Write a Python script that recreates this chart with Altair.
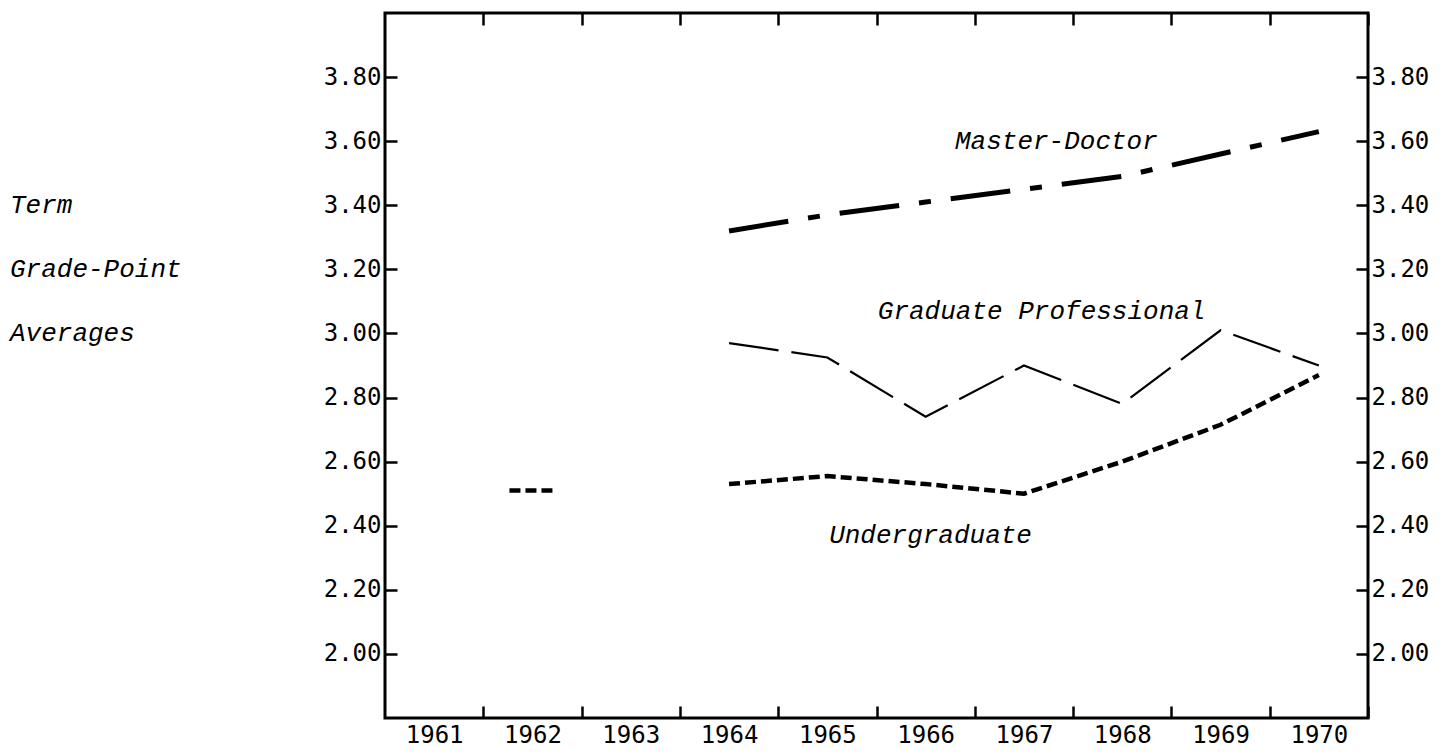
import altair as alt
import pandas as pd

# ---- data ----
years = [1961, 1962, 1963, 1964, 1965, 1966, 1967, 1968, 1969, 1970]
master_doctor = [None, None, None, 3.32, 3.37, 3.41, 3.45, 3.49, 3.56, 3.63]
grad_prof = [None, None, None, 2.97, 2.925, 2.74, 2.90, 2.78, 3.01, 2.90]
undergrad = [None, 2.51, None, 2.53, 2.555, 2.53, 2.50, 2.60, 2.715, 2.87]

series_names = ["Master-Doctor", "Graduate Professional", "Undergraduate"]
series_values = [master_doctor, grad_prof, undergrad]

y_ticks = [2.0, 2.2, 2.4, 2.6, 2.8, 3.0, 3.2, 3.4, 3.6, 3.8]
side_text = ["Term", "Grade-Point", "Averages"]
side_text_at = [3.4, 3.2, 3.0]

# annotation anchors (data coordinates)
ann_text = ["Master-Doctor", "Graduate Professional", "Undergraduate"]
ann_year = [1967.33, 1967.18, 1966.05]
ann_value = [3.60, 3.07, 2.37]

# ---- build tables ----
rows = []
iso = []
for name, vals in zip(series_names, series_values):
    run = 0
    prev = None
    for i, (yr, v) in enumerate(zip(years, vals)):
        if v is None:
            prev = None
            continue
        if prev is None:
            run += 1
        left = vals[i - 1] if i > 0 else None
        right = vals[i + 1] if i + 1 < len(vals) else None
        rec = {"series": name, "year": yr, "value": v, "seg": f"{name}-{run}"}
        if left is None and right is None:
            iso.append(rec)
        else:
            rows.append(rec)
        prev = v
line_df = pd.DataFrame(rows)
iso_df = pd.DataFrame(iso)
ann_df = pd.DataFrame({"label": ann_text, "year": ann_year, "value": ann_value})
side_df = pd.DataFrame({"label": side_text, "value": side_text_at})

W, H = 983, 705
half = W / 10 / 2
NUM_FONT = "DejaVu Sans Mono"
IT_FONT = "Liberation Mono"

xscale = alt.Scale(domain=[1960.5, 1970.5], nice=False, zero=False)
yscale = alt.Scale(domain=[1.8, 4.0], nice=False, zero=False)

common_tick = dict(tickSize=12, offset=-12, tickWidth=2.5, tickColor="black",
                   domain=False, grid=False, title=None)

x_bottom = alt.Axis(orient="bottom", values=years, tickOffset=half, labelOffset=-half,
                    labelFont=NUM_FONT, labelFontSize=24, labelColor="black",
                    labelPadding=5, labelFlush=False, labelOverlap=False, format="d",
                    **common_tick)
x_top = alt.Axis(orient="top", values=years, tickOffset=half, labels=False, **common_tick)
y_left = alt.Axis(orient="left", values=y_ticks, format=".2f", labelFont=NUM_FONT,
                  labelFontSize=24, labelColor="black", labelPadding=4,
                  labelFlush=False, labelOverlap=False, **common_tick)
y_right = alt.Axis(orient="right", values=y_ticks, format=".2f", labelFont=NUM_FONT,
                   labelFontSize=24, labelColor="black", labelPadding=3,
                   labelFlush=False, labelOverlap=False, **common_tick)

dash_scale = alt.Scale(type="ordinal", domain=series_names,
                       range=[[60, 20, 12, 20], [50, 13], [11, 5]])
width_scale = alt.Scale(type="ordinal", domain=series_names, range=[5, 2.2, 4.5])

lines = alt.Chart(line_df).mark_line(color="black", strokeCap="butt").encode(
    x=alt.X("year:Q", scale=xscale, axis=x_bottom),
    y=alt.Y("value:Q", scale=yscale, axis=y_left),
    detail="seg:N",
    strokeDash=alt.StrokeDash("series:N", scale=dash_scale, legend=None),
    strokeWidth=alt.StrokeWidth("series:N", scale=width_scale, legend=None),
)

isolated = alt.Chart(iso_df).mark_rule(color="black", xOffset=-23, x2Offset=23,
                                       strokeCap="butt").encode(
    x=alt.X("year:Q", scale=xscale, axis=None),
    x2="year:Q",
    y=alt.Y("value:Q", scale=yscale, axis=None),
    strokeDash=alt.StrokeDash("series:N", scale=dash_scale, legend=None),
    strokeWidth=alt.StrokeWidth("series:N", scale=width_scale, legend=None),
)

ann = alt.Chart(ann_df).mark_text(font=IT_FONT, fontStyle="italic", fontSize=26,
                                  color="black", align="center", baseline="middle").encode(
    x=alt.X("year:Q", scale=xscale, axis=x_top),
    y=alt.Y("value:Q", scale=yscale, axis=y_right),
    text="label:N",
)

side = alt.Chart(side_df).mark_text(font=IT_FONT, fontStyle="italic", fontSize=26,
                                    color="black", align="left", baseline="middle").encode(
    x=alt.value(-375),
    y=alt.Y("value:Q", scale=yscale, axis=None),
    text="label:N",
)

chart = alt.layer(lines, isolated, ann, side).resolve_axis(
    x="independent", y="independent"
).properties(
    width=W, height=H,
    autosize=alt.AutoSizeParams(type="none"),
    padding={"left": 377, "top": 5, "right": 70, "bottom": 30},
).configure_view(stroke="black", strokeWidth=3)

chart.save("out.html", embed_options={"renderer": "svg", "actions": False})
